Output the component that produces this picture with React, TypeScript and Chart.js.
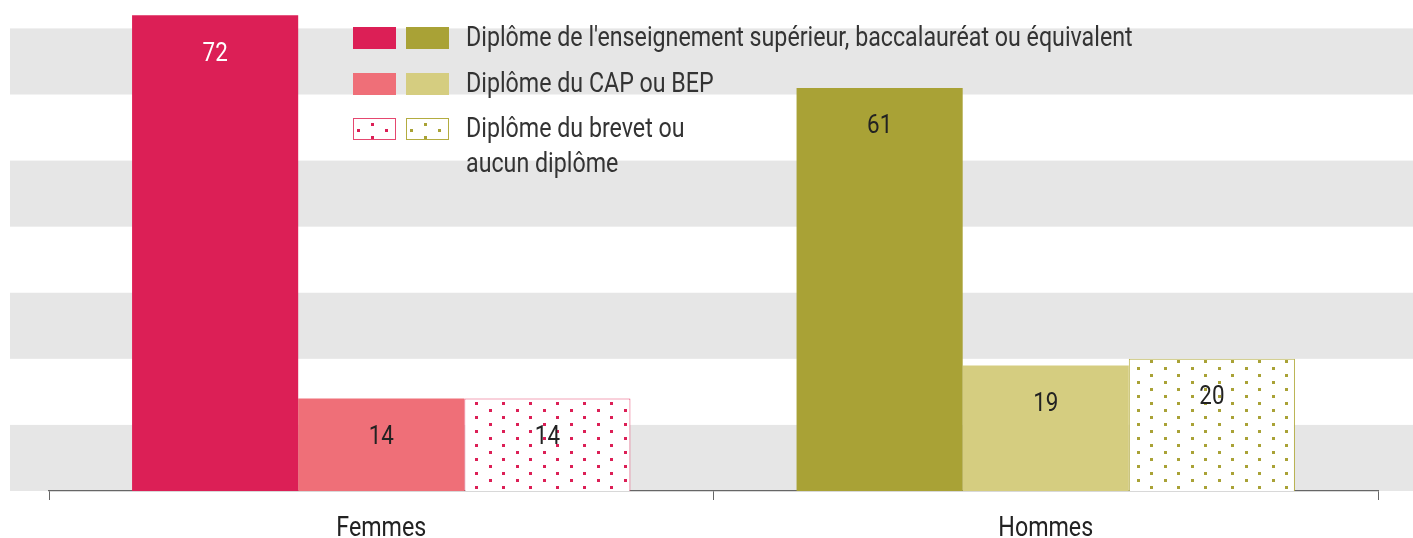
import React, { useEffect, useRef } from "react";
import { Chart, registerables } from "chart.js";

Chart.register(...registerables);

const categories = ["Femmes", "Hommes"];
const superieur = [72, 61];
const capBep = [14, 19];
const brevet = [14, 20];
const legendLabels = [
  "Diplôme de l'enseignement supérieur, baccalauréat ou équivalent",
  "Diplôme du CAP ou BEP",
  "Diplôme du brevet ou\naucun diplôme",
];
const yTicks = [0, 10, 20, 30, 40, 50, 60, 70];

const PINK = "#DC1F56";
const SALMON = "#EF6F78";
const OLIVE = "#A9A236";
const LIGHT_OLIVE = "#D5CD80";
const PINK_BORDER = "#E5476F";
const OLIVE_BORDER = "#B3AC40";
const BAND = "#E6E6E6";
const FONT = "Roboto, 'Liberation Sans', sans-serif";
const SQUEEZE = 0.86;

function makeDots(ctx: CanvasRenderingContext2D, color: string) {
  const c = document.createElement("canvas");
  c.width = 27;
  c.height = 14;
  const g = c.getContext("2d")!;
  g.fillStyle = "#ffffff";
  g.fillRect(0, 0, 27, 14);
  g.fillStyle = color;
  g.fillRect(3, 3, 3, 3);
  g.fillRect(16, 10, 3, 3);
  return ctx.createPattern(c, "repeat")!;
}

const bandsPlugin = {
  id: "bands",
  beforeDraw(chart: any) {
    const { ctx, chartArea, scales } = chart;
    const y = scales.y;
    ctx.save();
    ctx.fillStyle = BAND;
    for (let i = 0; i < yTicks.length; i += 2) {
      const a = y.getPixelForValue(yTicks[i]);
      const b = y.getPixelForValue(yTicks[i] + 10);
      ctx.fillRect(chartArea.left - 39, b, chart.width - (chartArea.left - 39), a - b);
    }
    ctx.restore();
  },
};

function squeezedText(ctx: CanvasRenderingContext2D, text: string, x: number, y: number) {
  ctx.save();
  ctx.translate(x, y);
  ctx.scale(SQUEEZE, 1);
  ctx.fillText(text, 0, 0);
  ctx.restore();
}

const labelsPlugin = {
  id: "valueLabels",
  afterDatasetsDraw(chart: any) {
    const { ctx } = chart;
    ctx.save();
    ctx.font = `26px ${FONT}`;
    ctx.textAlign = "center";
    ctx.textBaseline = "middle";
    chart.data.datasets.forEach((ds: any, di: number) => {
      const meta = chart.getDatasetMeta(di);
      meta.data.forEach((bar: any, i: number) => {
        const v = ds.data[i];
        ctx.fillStyle = di === 0 && i === 0 ? "#ffffff" : "#222222";
        squeezedText(ctx, String(v), bar.x, bar.y + 39);
      });
    });
    // category labels under the axis
    const xs = chart.scales.x;
    ctx.fillStyle = "#222222";
    ctx.font = `27px ${FONT}`;
    chart.data.labels.forEach((lab: string, i: number) => {
      squeezedText(ctx, lab, xs.getPixelForValue(i), xs.top + 38);
    });
    ctx.restore();
  },
};

function Swatch({ color, dotColor }: { color: string; dotColor?: string }) {
  if (!dotColor) {
    return <div style={{ width: 43, height: 22, background: color, marginRight: 10 }} />;
  }
  const dots = [
    [5, 12],
    [19, 6],
    [19, 19],
    [33, 12],
  ];
  return (
    <div
      style={{
        width: 41,
        height: 20,
        border: `1px solid ${color}`,
        background: "#fff",
        marginRight: 10,
        position: "relative",
      }}
    >
      {dots.map(([x, y], k) => (
        <div
          key={k}
          style={{
            position: "absolute",
            left: x - 2,
            top: y - 2,
            width: 3,
            height: 3,
            background: dotColor,
          }}
        />
      ))}
    </div>
  );
}

export default function App() {
  const ref = useRef<HTMLCanvasElement>(null);

  useEffect(() => {
    const canvas = ref.current!;
    const ctx = canvas.getContext("2d")!;
    const pinkDots = makeDots(ctx, PINK);
    const oliveDots = makeDots(ctx, OLIVE);
    Chart.defaults.font.family = FONT;
    const chart = new Chart(canvas, {
      type: "bar",
      data: {
        labels: categories,
        datasets: [
          {
            label: legendLabels[0],
            data: superieur,
            backgroundColor: [PINK, OLIVE],
            borderWidth: 0,
          },
          {
            label: legendLabels[1],
            data: capBep,
            backgroundColor: [SALMON, LIGHT_OLIVE],
            borderWidth: 0,
          },
          {
            label: legendLabels[2],
            data: brevet,
            backgroundColor: [pinkDots, oliveDots] as any,
            borderColor: [PINK_BORDER, OLIVE_BORDER],
            borderWidth: 1,
            borderSkipped: "bottom",
          },
        ],
      },
      options: {
        animation: false,
        responsive: false,
        maintainAspectRatio: false,
        layout: { padding: { left: 49, right: 35, top: 0, bottom: 0 } },
        datasets: { bar: { categoryPercentage: 0.75, barPercentage: 1 } },
        plugins: { legend: { display: false }, tooltip: { enabled: false } },
        scales: {
          x: {
            grid: {
              display: true,
              offset: true,
              drawOnChartArea: false,
              drawTicks: true,
              tickLength: 9,
              color: "#666",
            },
            border: { display: true, color: "#666", width: 1.3 },
            ticks: { display: false },
            afterFit: (s: any) => {
              s.height = 47;
            },
          },
          y: {
            display: false,
            min: 0,
            max: 74.3,
          },
        },
      },
      plugins: [bandsPlugin, labelsPlugin],
    });
    return () => chart.destroy();
  }, []);

  const swColors = [
    [PINK, OLIVE],
    [SALMON, LIGHT_OLIVE],
    [PINK_BORDER, OLIVE_BORDER],
  ];
  const dotColors = [PINK, OLIVE];

  return (
    <div style={{ position: "fixed", left: 0, top: 0, width: 1413, height: 538, background: "#fff" }}>
      <canvas ref={ref} width={1413} height={538} style={{ display: "block" }} />
      {legendLabels.map((lab, i) => (
        <div
          key={i}
          style={{
            position: "absolute",
            left: 353,
            top: 27 + i * 45.5,
            display: "flex",
            alignItems: "flex-start",
          }}
        >
          <Swatch color={swColors[i][0]} dotColor={i === 2 ? dotColors[0] : undefined} />
          <Swatch color={swColors[i][1]} dotColor={i === 2 ? dotColors[1] : undefined} />
          <div
            style={{
              marginLeft: 7,
              marginTop: -7,
              fontFamily: FONT,
              fontSize: 27,
              lineHeight: "35px",
              color: "#333",
              whiteSpace: "pre",
              transform: `scaleX(${SQUEEZE})`,
              transformOrigin: "0 0",
            }}
          >
            {lab}
          </div>
        </div>
      ))}
    </div>
  );
}
